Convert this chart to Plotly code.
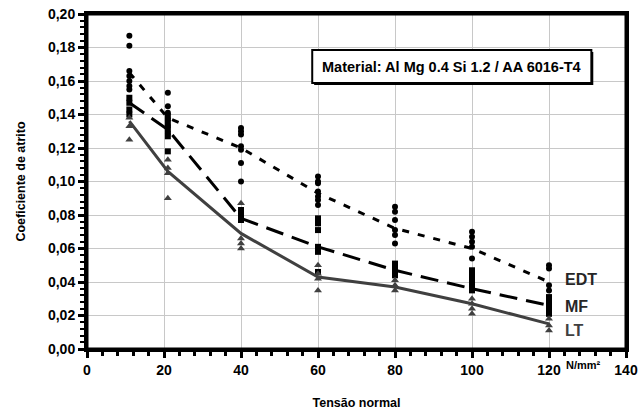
import plotly.graph_objects as go

# Group positions (normal stress, N/mm²)
x_groups = [11, 21, 40, 60, 80, 100, 120]

# Mean curves
edt_mean = [0.165, 0.138, 0.120, 0.093, 0.072, 0.060, 0.040]
mf_mean = [0.147, 0.131, 0.078, 0.061, 0.047, 0.036, 0.026]
lt_mean = [0.136, 0.106, 0.069, 0.043, 0.037, 0.027, 0.015]

# Individual measurements per group
edt_points = [
    [0.187, 0.181, 0.166, 0.163, 0.160, 0.157, 0.155],
    [0.153, 0.145, 0.141, 0.137, 0.133, 0.129],
    [0.132, 0.130, 0.128, 0.121, 0.119, 0.111, 0.100],
    [0.103, 0.100, 0.099, 0.094, 0.091, 0.089, 0.086],
    [0.085, 0.082, 0.077, 0.071, 0.068, 0.063],
    [0.070, 0.067, 0.064, 0.061, 0.054],
    [0.050, 0.048, 0.038, 0.035],
]
mf_points = [
    [0.150, 0.147, 0.143, 0.140],
    [0.139, 0.135, 0.131, 0.127, 0.118],
    [0.083, 0.081, 0.079, 0.077],
    [0.078, 0.075, 0.071, 0.061, 0.058, 0.046],
    [0.051, 0.049, 0.047, 0.044],
    [0.047, 0.044, 0.041, 0.038, 0.035],
    [0.031, 0.029, 0.027, 0.024, 0.021],
]
lt_points = [
    [0.138, 0.133, 0.125],
    [0.113, 0.108, 0.105, 0.090],
    [0.087, 0.066, 0.063, 0.060],
    [0.050, 0.045, 0.042, 0.035],
    [0.041, 0.038, 0.035],
    [0.030, 0.027, 0.024, 0.021],
    [0.018, 0.014, 0.011],
]

x_ticks = [0, 20, 40, 60, 80, 100, 120, 140]
y_ticks = [0.00, 0.02, 0.04, 0.06, 0.08, 0.10, 0.12, 0.14, 0.16, 0.18, 0.20]
y_ticktext = ["0,00", "0,02", "0,04", "0,06", "0,08", "0,10", "0,12", "0,14", "0,16", "0,18", "0,20"]

series_labels = ["EDT", "MF", "LT"]
title_text = "Material: Al Mg 0.4 Si 1.2 / AA 6016-T4"

FONT = "Arial, 'Liberation Sans', sans-serif"
DARK = "#404040"


def flatten(groups):
    xs, ys = [], []
    for xg, vals in zip(x_groups, groups):
        for v in vals:
            xs.append(xg)
            ys.append(v)
    return xs, ys


fig = go.Figure()

# lines
fig.add_trace(go.Scatter(x=x_groups, y=edt_mean, mode="lines",
                         line=dict(color="black", width=3, dash="7px,9px"),
                         showlegend=False, hoverinfo="skip"))
fig.add_trace(go.Scatter(x=x_groups, y=mf_mean, mode="lines",
                         line=dict(color="black", width=3, dash="18px,9px"),
                         showlegend=False, hoverinfo="skip"))
fig.add_trace(go.Scatter(x=x_groups, y=lt_mean, mode="lines",
                         line=dict(color=DARK, width=3),
                         showlegend=False, hoverinfo="skip"))

# points
ex, ey = flatten(edt_points)
mx, my = flatten(mf_points)
lx, ly = flatten(lt_points)
fig.add_trace(go.Scatter(x=ex, y=ey, mode="markers",
                         marker=dict(symbol="circle", size=6, color="black"),
                         showlegend=False))
fig.add_trace(go.Scatter(x=mx, y=my, mode="markers",
                         marker=dict(symbol="square", size=6, color="black"),
                         showlegend=False))
fig.add_trace(go.Scatter(x=lx, y=ly, mode="markers",
                         marker=dict(symbol="triangle-up", size=7, color=DARK),
                         showlegend=False))

# series labels
label_y = [0.0412, 0.0251, 0.0113]
label_col = ["#262626", "#262626", DARK]
for t, yy, c in zip(series_labels, label_y, label_col):
    fig.add_annotation(x=123.7, y=yy, xref="x", yref="y", text=f"<b>{t}</b>",
                       showarrow=False, font=dict(family=FONT, size=16, color=c),
                       xanchor="left", yanchor="middle")

# material box with shadow
fig.add_shape(type="rect", xref="x", yref="y", x0=59.0, x1=131.5, y0=0.1576, y1=0.1773,
              fillcolor="black", line=dict(width=0), layer="above")
fig.add_shape(type="rect", xref="x", yref="y", x0=58.5, x1=131.0, y0=0.1588, y1=0.1785,
              fillcolor="white", line=dict(color="black", width=2), layer="above")
fig.add_annotation(x=94.75, y=0.1686, xref="x", yref="y", text=f"<b>{title_text}</b>",
                   showarrow=False, font=dict(family=FONT, size=14.5, color="black"),
                   xanchor="center", yanchor="middle")

# plot frame
fig.add_shape(type="rect", xref="paper", yref="paper", x0=0, x1=1, y0=0, y1=1,
              line=dict(color="black", width=3), layer="above")

# unit label
fig.add_annotation(x=129.0, y=-0.048, xref="x", yref="paper", text="<b>N/mm²</b>",
                   showarrow=False, font=dict(family=FONT, size=11, color="black"),
                   xanchor="center", yanchor="middle")

fig.update_layout(
    width=640, height=416,
    margin=dict(l=87, r=14, t=14, b=67, autoexpand=False),
    paper_bgcolor="white", plot_bgcolor="white",
    font=dict(family=FONT, size=12, color="black"),
    showlegend=False,
)
fig.update_xaxes(
    range=[0, 140], tickvals=x_ticks, ticktext=[f"<b>{v}</b>" for v in x_ticks],
    showgrid=True, gridcolor="#c8c8c8", gridwidth=1,
    showline=True, linecolor="black", linewidth=3, mirror=True,
    ticks="outside", ticklen=6, tickwidth=3, tickcolor="black",
    minor=dict(tickmode="linear", tick0=0, dtick=4, ticks="outside", ticklen=4, tickwidth=3,
               tickcolor="black", showgrid=False),
    tickfont=dict(family=FONT, size=14, color="black"),
    title=dict(text="<b>Tensão normal</b>", font=dict(family=FONT, size=12.5, color="black"), standoff=22),
    zeroline=False, automargin=False,
)
fig.update_yaxes(
    range=[0, 0.2], tickvals=y_ticks, ticktext=[f"<b>{t}</b>" for t in y_ticktext],
    showgrid=True, gridcolor="#c8c8c8", gridwidth=1,
    showline=True, linecolor="black", linewidth=3, mirror=True,
    ticks="outside", ticklen=6, tickwidth=3, tickcolor="black",
    minor=dict(tickmode="linear", tick0=0, dtick=0.004, ticks="outside", ticklen=4, tickwidth=2,
               tickcolor="black", showgrid=False),
    tickfont=dict(family=FONT, size=14, color="black"),
    title=dict(text="<b>Coeficiente de atrito</b>", font=dict(family=FONT, size=12.5, color="black"), standoff=20),
    zeroline=False, automargin=False,
)

fig.write_html("out.html", config={"displayModeBar": False},
               post_script="document.body.style.margin='0';")
